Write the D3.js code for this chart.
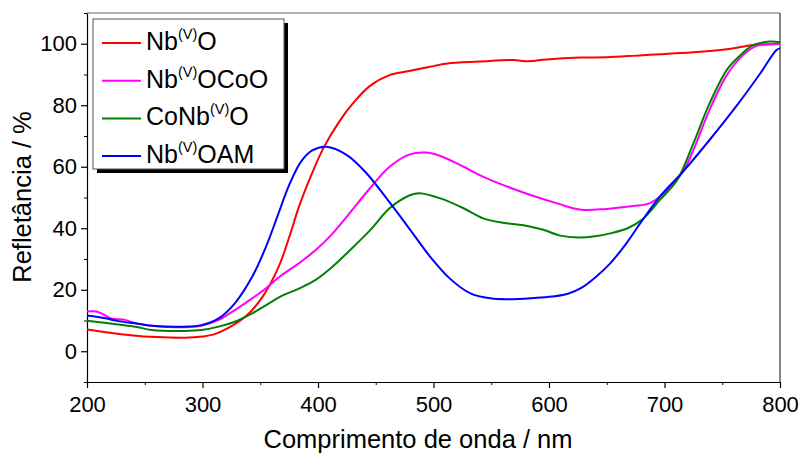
<!DOCTYPE html>
<html>
<head>
<meta charset="utf-8">
<script src="https://cdn.jsdelivr.net/npm/d3@7"></script>
<style>
  body { margin: 0; background: #fff; }
  svg text { font-family: "Liberation Sans", Arial, sans-serif; fill: #000; }
</style>
</head>
<body>
<div id="chart"></div>
<script>
/// DIFFUSE REFLECTANCE SPECTRA ///
// [wavelength nm, reflectance %]
const nbO = [
  [200, 7.1], [220, 6.0], [240, 5.1], [260, 4.6], [285, 4.4], [300, 4.8], [310, 5.5],
  [322, 7.5], [337, 11.2], [352, 17.7], [366, 27.5], [375, 37], [384, 47.5], [395, 58],
  [405, 66.3], [419, 75], [430, 80.5], [445, 86.3], [462, 89.8], [480, 91.2], [497, 92.5],
  [512, 93.6], [540, 94.2], [569, 94.7], [582, 94.3], [598, 94.9], [627, 95.5], [650, 95.6],
  [681, 96.3], [725, 97.2], [754, 98.2], [777, 99.6], [800, 99.9],
];
const nbOCoO = [
  [200, 12.9], [208, 12.9], [215, 11.8], [221, 10.7], [233, 10.2], [242, 9.1], [256, 8.3],
  [285, 7.8], [299, 8.3], [314, 10.2], [328, 13.4], [343, 17.2], [355, 20.5], [367, 24.3],
  [383, 28.5], [398, 32.9], [412, 38], [425, 43.8], [445, 53], [462, 60], [480, 64.1],
  [493, 64.6], [506, 63.5], [526, 60], [540, 57.3], [560, 54.1], [584, 50.8], [607, 48.1],
  [628, 46], [650, 46.3], [673, 47.2], [687, 48.1], [696, 50.3], [705, 53.5], [716, 58.4],
  [725, 65.4], [739, 78.5], [754, 89.8], [768, 96.3], [780, 99.3], [800, 99.9],
];
const coNbO = [
  [200, 9.9], [227, 8.7], [242, 8.0], [256, 6.9], [285, 6.6], [299, 6.9], [314, 8.0],
  [328, 9.6], [343, 12.3], [355, 15], [367, 17.7], [383, 20.3], [398, 23.2], [412, 27.3],
  [425, 31.9], [445, 39.3], [462, 46.5], [480, 50.8], [488, 51.4], [506, 49.7], [526, 46.5],
  [543, 43.2], [560, 41.8], [578, 41], [595, 39.5], [610, 37.6], [625, 37], [640, 37.4],
  [655, 38.5], [668, 40], [681, 42.9], [696, 49.2], [711, 55.7], [725, 67.6], [739, 80.6],
  [754, 91.5], [763, 95.3], [777, 99.6], [791, 100.7], [800, 100.5],
];
const nbOAM = [
  [200, 11.6], [216, 10.7], [227, 9.8], [242, 9.1], [256, 8.3], [285, 8.0], [299, 8.5],
  [314, 10.7], [328, 15.6], [343, 24.2], [355, 34], [365, 44], [375, 54], [385, 61.5],
  [395, 65.3], [407, 66.5], [425, 63.8], [442, 57.9], [462, 48.4], [480, 39.4], [497, 30.8],
  [514, 23.7], [532, 18.8], [549, 17.2], [566, 16.9], [589, 17.4], [605, 17.9], [617, 18.8],
  [628, 20.6], [640, 24], [653, 28.6], [667, 35.1], [681, 42.7], [696, 50.3], [716, 58.4],
  [739, 68.7], [763, 80.1], [783, 90.4], [797, 98], [800, 98.5],
];

const seriesNames = ["Nb|(V)|O", "Nb|(V)|OCoO", "CoNb|(V)|O", "Nb|(V)|OAM"];
const seriesColors = ["#ff0000", "#ff00ff", "#008000", "#0000ff"];
const seriesData = [nbO, nbOCoO, coNbO, nbOAM];

const xTicks = [200, 300, 400, 500, 600, 700, 800];
const yTicks = [0, 20, 40, 60, 80, 100];

const W = 801, H = 453;
const margin = { left: 87, right: 21, top: 13, bottom: 71 };
const width = W - margin.left - margin.right;
const height = H - margin.top - margin.bottom;

const svg = d3.select("#chart").append("svg")
  .attr("width", W).attr("height", H);
const g = svg.append("g")
  .attr("transform", `translate(${margin.left},${margin.top})`);

const x = d3.scaleLinear().domain([200, 800]).range([0, width]);
const y = d3.scaleLinear().domain([-10, 110]).range([height, 0]);

// frame (top + right)
g.append("line").attr("x1", 0).attr("x2", width).attr("y1", 0).attr("y2", 0)
  .attr("stroke", "#666").attr("stroke-width", 1.2);
g.append("line").attr("x1", width).attr("x2", width).attr("y1", 0).attr("y2", height)
  .attr("stroke", "#333").attr("stroke-width", 1.2);

// minor ticks
g.append("g").attr("transform", `translate(0,${height})`)
  .call(d3.axisBottom(x).tickValues(d3.range(250, 800, 100)).tickSize(3).tickFormat(""))
  .call((a) => a.select(".domain").remove());
g.append("g")
  .call(d3.axisLeft(y).tickValues([-10, 10, 30, 50, 70, 90, 110]).tickSize(3).tickFormat(""))
  .call((a) => a.select(".domain").remove());

// main axes
const xAxis = g.append("g").attr("transform", `translate(0,${height})`)
  .call(d3.axisBottom(x).tickValues(xTicks).tickSize(6).tickPadding(8).tickSizeOuter(0));
const yAxis = g.append("g")
  .call(d3.axisLeft(y).tickValues(yTicks).tickSize(6).tickPadding(4).tickSizeOuter(0));
[xAxis, yAxis].forEach((a) => {
  a.selectAll("text").style("font-size", "22px")
    .style("font-family", '"Liberation Sans", Arial, sans-serif');
  a.selectAll("line, path").attr("stroke", "#000").attr("stroke-width", 1.2);
});

// axis titles
svg.append("text")
  .attr("x", 418).attr("y", 448)
  .attr("text-anchor", "middle")
  .style("font-size", "25.5px")
  .text("Comprimento de onda / nm");
svg.append("text")
  .attr("transform", "translate(31,197) rotate(-90)")
  .attr("text-anchor", "middle")
  .style("font-size", "25.5px")
  .text("Refletância / %");

// curves
const line = d3.line()
  .x((d) => x(d[0]))
  .y((d) => y(d[1]))
  .curve(d3.curveCatmullRom.alpha(0.5));

g.append("g").selectAll("path")
  .data(seriesData)
  .join("path")
  .attr("d", line)
  .attr("fill", "none")
  .attr("stroke", (d, i) => seriesColors[i])
  .attr("stroke-width", 2);

// legend
const leg = svg.append("g");
leg.append("rect").attr("x", 97).attr("y", 23).attr("width", 191).attr("height", 150)
  .attr("fill", "#000");
leg.append("rect").attr("x", 93).attr("y", 19).attr("width", 191).attr("height", 150)
  .attr("fill", "#fff").attr("stroke", "#555").attr("stroke-width", 1);

seriesNames.forEach((name, i) => {
  const by = 50 + i * 37.7;
  leg.append("line")
    .attr("x1", 102).attr("x2", 141)
    .attr("y1", by - 7).attr("y2", by - 7)
    .attr("stroke", seriesColors[i]).attr("stroke-width", 2);
  const parts = name.split("|");
  const t = leg.append("text").attr("x", 146).attr("y", by).style("font-size", "25px");
  t.append("tspan").text(parts[0]);
  t.append("tspan").attr("dy", -11).style("font-size", "14.5px").text(parts[1]);
  t.append("tspan").attr("dy", 11).text(parts[2]);
});
</script>
</body>
</html>
